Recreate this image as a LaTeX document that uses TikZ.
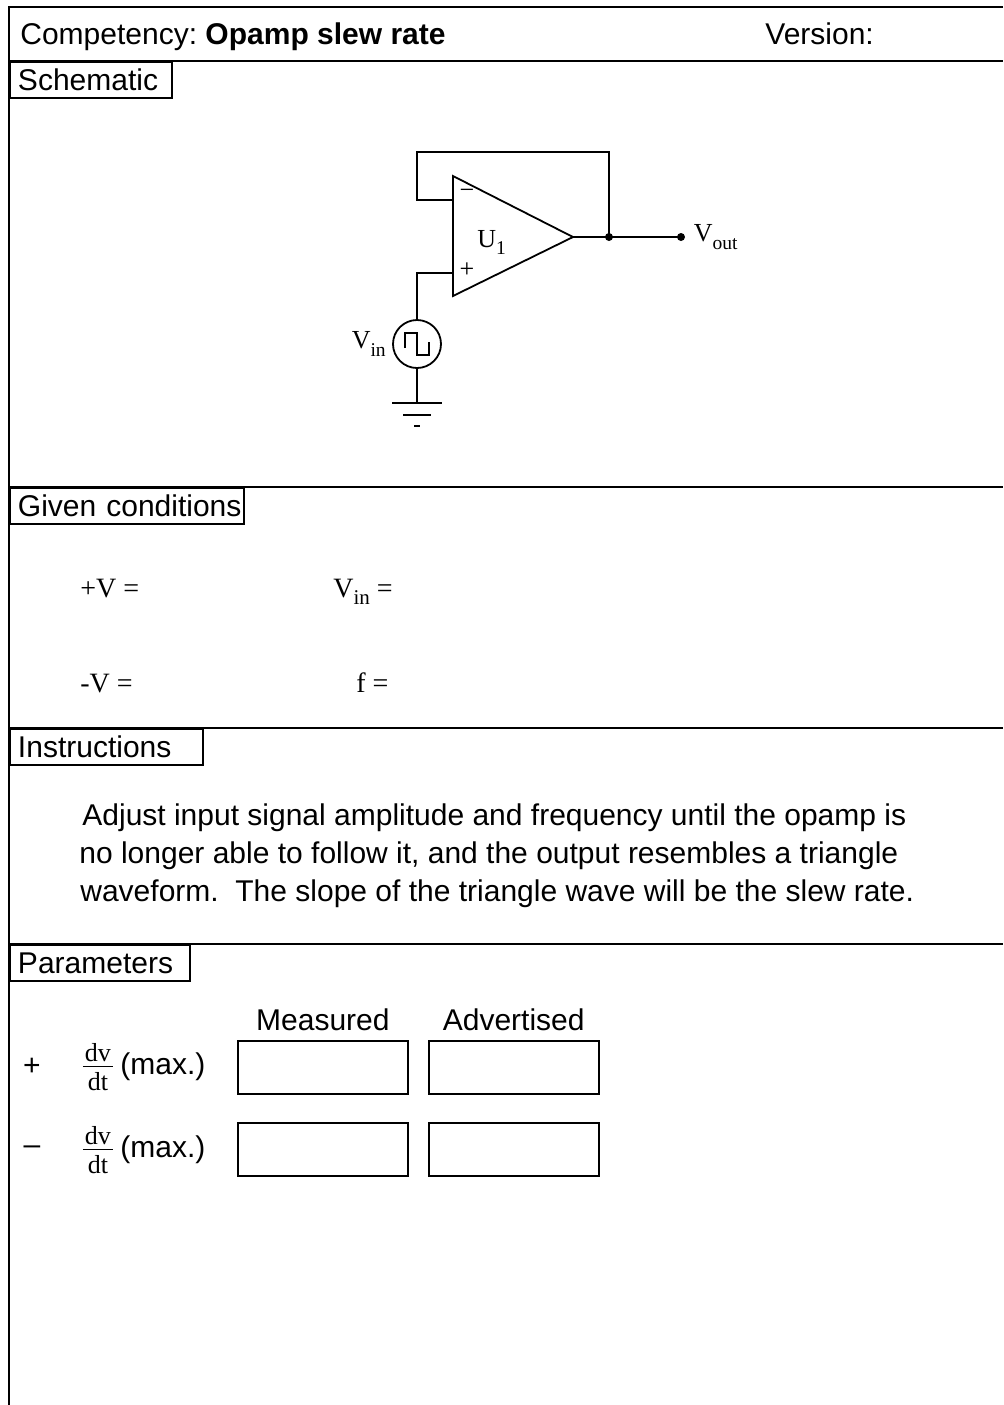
\documentclass[tikz,border=0pt]{standalone}
\usepackage{graphicx}
\usepackage{fontspec}
\setmainfont{Liberation Sans}
\newfontfamily\timesfont{Liberation Serif}
\usetikzlibrary{positioning}
\frenchspacing
\newcommand{\lowsub}[1]{\raisebox{-0.6ex}{\scalebox{0.75}{#1}}}
\newcommand{\slopefrac}{\timesfont\fontsize{13}{15}\selectfont
  $\vcenter{\hbox to 15pt{\hss dv\hss}\kern2pt\hrule height 0.6pt\kern2.5pt\hbox to 15pt{\hss dt\hss}}$}

\begin{document}
\begin{tikzpicture}[
  x=0.5pt, y=-0.5pt,
  font=\fontsize{15}{18}\selectfont,
  frame/.style={line width=1pt},
  tab/.style={draw, line width=1pt, anchor=north west, inner xsep=4pt, inner ysep=0pt,
    minimum height=18pt, text height=10.8pt, text depth=0pt, text width=#1, align=left},
  wire/.style={line width=0.9pt},
  lbl/.style={font=\timesfont\fontsize{13}{15}\selectfont, inner sep=0pt},
  given/.style={font=\timesfont\fontsize{14}{16}\selectfont, inner sep=0pt, anchor=base west},
  dot/.style={circle, fill, inner sep=0pt, minimum size=4pt},
  answer/.style={draw, line width=0.9pt, minimum width=85pt, minimum height=26.5pt},
  ]
  \useasboundingbox (0,0) rectangle (1003,1405);
  \draw[frame] (1003,7) -- (9,7) -- (9,1405);
  \foreach \y in {61,487,728,944}
    \draw[frame] (9,\y) -- (1003,\y);

  \node[anchor=base west, inner sep=0pt] (title) at (20,44) {Competency: \textbf{Opamp slew rate}};
  \node[anchor=base west, inner sep=0pt] (version) at (765,44) {Version:};

  \node[tab=73pt] (schem) at (9,61) {Schematic};
  \node[tab=109pt] (given) at (9,487) {\mbox{Given conditions}};
  \node[tab=88.5pt] (instr) at (9,728) {Instructions};
  \node[tab=82pt] (param) at (9,944) {Parameters};

  \coordinate (top) at (453,176);
  \coordinate (bot) at (453,296);
  \coordinate (out) at (573,237);
  \coordinate (inm) at (453,200);
  \coordinate (inp) at (453,273);
  \coordinate (fb) at (417,152);
  \draw[wire] (top) -- (out) -- (bot) -- cycle;
  \node[dot] (jn) at (609,237) {};
  \node[dot] (vout) at (681,237) {};
  \draw[wire] (inm) -| (fb) -| (jn.center);
  \draw[wire] (out) -- (vout.center);
  \node[lbl] (minus) at (467,194) {−};
  \node[lbl] (plus) at (467,270) {+};
  \node[lbl, anchor=base west] (u1) at (477,247) {U\lowsub{1}};
  \node[lbl, right=4pt of vout] (voutlbl) {V\lowsub{out}};

  \node[circle, draw, wire, minimum size=24pt, inner sep=0pt] (src) at (417,344) {};
  \draw[wire] (inp) -| (src.north);
  \draw[wire, shift={(src.center)}] (-12,4) -- (-12,-11) -- (0,-11) -- (0,11) -- (12,11) -- (12,-2);
  \node[lbl, left=3pt of src] (vinlbl) {V\lowsub{in}};
  \coordinate (gnd) at (417,403);
  \draw[wire] (src.south) -- (gnd);
  \draw[wire, shift={(gnd)}] (-25,0) -- (25,0) (-14,12) -- (14,12) (-3,23) -- (3,23);

  \node[given] (vplus) at (80,597) {+V =};
  \node[given] (vin) at (333,597) {V\lowsub{in} =};
  \node[given] (vminus) at (80,692) {-V =};
  \node[given] (freq) at (356,692) {f =};

  \node[anchor=base west, inner sep=0pt] (line1) at (82,825) {Adjust input signal amplitude and frequency until the opamp is};
  \node[anchor=base west, inner sep=0pt] (line2) at (79,863) {no longer able to follow it, and the output resembles a triangle};
  \node[anchor=base west, inner sep=0pt] (line3) at (80,901) {waveform.\ \ The slope of the triangle wave will be the slew rate.};

  \node[answer, anchor=north west] (m1) at (237,1040) {};
  \node[answer, right=9.5pt of m1] (a1) {};
  \node[answer, below=13.5pt of m1] (m2) {};
  \node[answer, below=13.5pt of a1] (a2) {};
  \node[above=1pt of m1] (meas) {Measured};
  \node[above=1pt of a1] (adv) {Advertised};

  \node[inner sep=0pt] (sign1) at (32,1067) {+};
  \node[inner sep=0pt] (frac1) at (98,1067) {\slopefrac};
  \node[inner sep=0pt, anchor=west] (max1) at (120,1067) {(max.)};
  \node[inner sep=0pt] (sign2) at (32,1150) {–};
  \node[inner sep=0pt] (frac2) at (98,1150) {\slopefrac};
  \node[inner sep=0pt, anchor=west] (max2) at (120,1150) {(max.)};
\end{tikzpicture}
\end{document}
